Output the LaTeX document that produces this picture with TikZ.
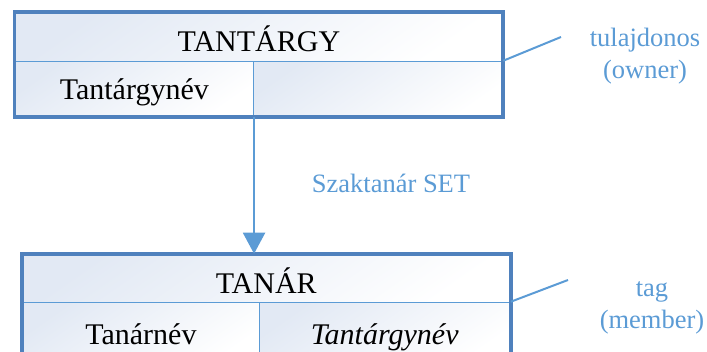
\documentclass[tikz,border=0pt]{standalone}
\usepackage{fontspec}
\setmainfont{Liberation Serif}
\usetikzlibrary{arrows.meta}
\definecolor{frameblue}{HTML}{4F81BD}
\definecolor{lineblue}{HTML}{5B9BD5}
\definecolor{cellblue}{HTML}{E2E9F4}
\tikzset{
  cell/.style={rectangle, inner sep=0pt, draw=lineblue, line width=1.5pt,
    top color=cellblue, bottom color=white, shading angle=35,
    font=\fontsize{30}{36}\selectfont, text depth=0pt},
  frame/.style={draw=frameblue, line width=3.8pt},
  note/.style={text=lineblue, align=center, inner sep=0pt,
    font=\fontsize{26.5}{32.5}\selectfont},
  conn/.style={draw=lineblue, line width=2pt},
}
\begin{document}
\begin{tikzpicture}[x=1pt, y=-1pt]
\useasboundingbox (0,0) rectangle (707,352);
\clip (0,0) rectangle (707,352);

% upper record: TANTÁRGY
\node[cell, minimum width=487.2pt, minimum height=49pt, text height=30pt]
  (tantargy) at (258.9,37) {TANTÁRGY};
\node[cell, minimum width=238pt, minimum height=55pt, text height=21pt]
  (tantargynev) at (134.3,89) {Tantárgynév};
\node[cell, minimum width=249.2pt, minimum height=55pt]
  (tures) at (377.9,89) {};
\draw[frame] (tantargy.north west) rectangle (tures.south east);

% lower record: TANÁR
\node[cell, minimum width=487.5pt, minimum height=48pt, text height=31pt]
  (tanar) at (266.25,278.5) {TANÁR};
\node[cell, minimum width=236.8pt, minimum height=60pt, text height=24pt]
  (tanarnev) at (140.9,332.5) {Tanárnév};
\node[cell, minimum width=250.7pt, minimum height=60pt, text height=24pt]
  (tanartargy) at (384.65,332.5) {\itshape Tantárgynév};
\draw[frame] (tanar.north west) rectangle (tanartargy.south east);

% set connector
\draw[conn, -{Triangle[width=22pt,length=21pt]}]
  (tantargynev.south east) -- (tantargynev.south east |- tanar.north);
\node[note, anchor=base] (settext) at (391,193) {Szaktanár SET};

% owner / member annotations
\node[note] (owner) at (645,56) {tulajdonos\\(owner)};
\coordinate (ownerend) at (561,37);
\draw[conn] (tures.north east) -- (ownerend);

\node[note] (member) at (652,308) {tag\\(member)};
\coordinate (memberend) at (568,280);
\draw[conn] (tanartargy.north east) -- (memberend);
\end{tikzpicture}
\end{document}
